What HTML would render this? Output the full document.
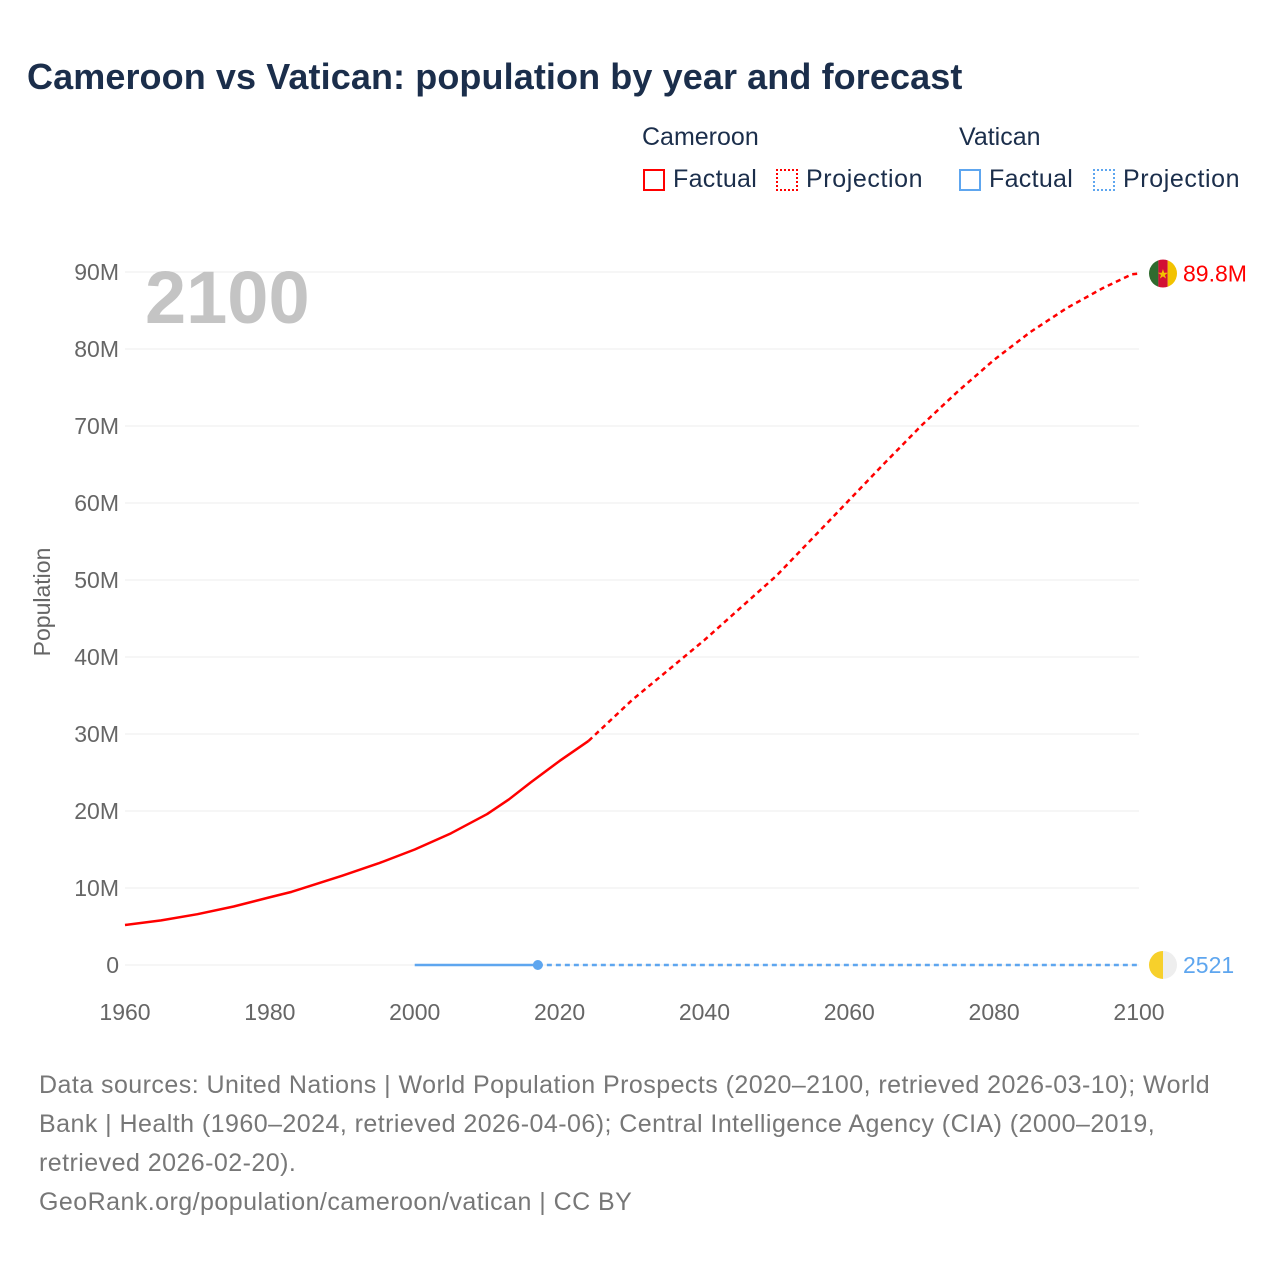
<!DOCTYPE html>
<html><head><meta charset="utf-8"><style>
body{margin:0;background:#fff;font-family:"Liberation Sans",sans-serif}
#wrap{position:relative;width:1280px;height:1280px}
.t{position:absolute;white-space:nowrap}
.box{position:absolute;width:22px;height:22px;box-sizing:border-box}
</style></head><body><div id="wrap">
<div class="t" style="left:27px;top:56px;font-size:36px;font-weight:bold;color:#1b2e4b;letter-spacing:0.1px">Cameroon vs Vatican: population by year and forecast</div>
<div class="t" style="left:642px;top:123px;font-size:25px;color:#1b2e4b">Cameroon</div>
<div class="t" style="left:959px;top:123px;font-size:25px;color:#1b2e4b">Vatican</div>
<div class="box" style="left:643px;top:169px;border:2px solid #f00"></div>
<div class="t" style="left:673px;top:165px;font-size:25px;color:#1b2e4b;letter-spacing:0.3px">Factual</div>
<div class="box" style="left:776px;top:169px;border:2px dotted #f00"></div>
<div class="t" style="left:806px;top:165px;font-size:25px;color:#1b2e4b;letter-spacing:0.6px">Projection</div>
<div class="box" style="left:959px;top:169px;border:2px solid #5ea6ef"></div>
<div class="t" style="left:989px;top:165px;font-size:25px;color:#1b2e4b;letter-spacing:0.3px">Factual</div>
<div class="box" style="left:1093px;top:169px;border:2px dotted #5ea6ef"></div>
<div class="t" style="left:1123px;top:165px;font-size:25px;color:#1b2e4b;letter-spacing:0.6px">Projection</div>
<svg id="chart" width="1280" height="1280" style="position:absolute;left:0;top:0"></svg>
<div class="t" style="left:39px;top:1066px;font-size:25px;line-height:39px;color:#777;letter-spacing:0.45px">Data sources: United Nations | World Population Prospects (2020–2100, retrieved 2026-03-10); World<br>Bank | Health (1960–2024, retrieved 2026-04-06); Central Intelligence Agency (CIA) (2000–2019,<br>retrieved 2026-02-20).<br>GeoRank.org/population/cameroon/vatican | CC BY</div>
</div>
<script>
const yTicks=[0,10,20,30,40,50,60,70,80,90];
const yTickLabels=["0","10M","20M","30M","40M","50M","60M","70M","80M","90M"];
const xTicks=[1960,1980,2000,2020,2040,2060,2080,2100];
const camFactYears=[1960,1965,1970,1975,1980,1983,1990,1995,2000,2005,2010,2013,2016,2020,2024];
const camFactVals=[5.2,5.8,6.6,7.6,8.8,9.5,11.6,13.2,15.0,17.1,19.6,21.5,23.7,26.5,29.1];
const camProjYears=[2024,2030,2035,2040,2045,2050,2055,2060,2065,2070,2075,2080,2085,2090,2095,2099,2100];
const camProjVals=[29.1,34.4,38.3,42.2,46.4,50.6,55.5,60.4,65.3,70.1,74.5,78.6,82.2,85.3,87.9,89.7,89.8];
const vatFactYears=[2000,2017];
const vatFactVals=[0.00089,0.001];
const vatProjYears=[2017,2100];
const vatProjVals=[0.001,0.002521];
const X=y=>125+(y-1960)*(1014/140);
const Y=v=>965-v*7.7;
const svg=document.getElementById('chart');
const NS='http://www.w3.org/2000/svg';
function mk(t,a){const e=document.createElementNS(NS,t);for(const k in a)e.setAttribute(k,a[k]);svg.appendChild(e);return e;}
yTicks.forEach((v,i)=>{
 const l=mk('line',{x1:125,x2:1139,y1:Y(v),y2:Y(v),stroke:'#ededed','stroke-width':1});
 
 
 const t=mk('text',{x:119,y:Y(v)+8,'text-anchor':'end','font-size':23,fill:'#666','font-family':'Liberation Sans, sans-serif'});
 t.textContent=yTickLabels[i];
 
 
});
xTicks.forEach(y=>{
 const t=mk('text',{x:X(y),y:1020,'text-anchor':'middle','font-size':23,fill:'#666','font-family':'Liberation Sans, sans-serif'});
 t.textContent=y;
 
 
});
const yt=mk('text',{x:0,y:0,transform:'translate(50,602) rotate(-90)','text-anchor':'middle','font-size':23,fill:'#666','font-family':'Liberation Sans, sans-serif'});
yt.textContent='Population';


const yr=mk('text',{x:145,y:323,'font-size':74,'font-weight':'bold',fill:'#c4c4c4','font-family':'Liberation Sans, sans-serif'});
yr.textContent='2100';


function pts(ys,vs){return ys.map((y,i)=>X(y)+','+Y(vs[i])).join(' ');}
let p=mk('polyline',{points:pts(camFactYears,camFactVals),fill:'none',stroke:'#f00','stroke-width':2.5,'stroke-linejoin':'round'});


p=mk('polyline',{points:pts(camProjYears,camProjVals),fill:'none',stroke:'#f00','stroke-width':2.5,'stroke-dasharray':'5,4'});


p=mk('polyline',{points:pts(vatFactYears,vatFactVals),fill:'none',stroke:'#5ea6ef','stroke-width':2.5});


p=mk('polyline',{points:pts(vatProjYears,vatProjVals),fill:'none',stroke:'#5ea6ef','stroke-width':2.5,'stroke-dasharray':'5,4'});


const dot=mk('circle',{cx:X(2017),cy:Y(0.001),r:5,fill:'#5ea6ef'});


const cx=1163,cy1=Y(89.8),cy2=Y(0.0025);
const cp=mk('clipPath',{id:'c1'});mk('circle',{cx:cx,cy:cy1,r:14});cp.appendChild(svg.lastChild);
const g1=mk('g',{'clip-path':'url(#c1)'});


[['#2f6b2f',0],['#d21034',1],['#f2c200',2]].forEach(([c,i])=>{const r=document.createElementNS(NS,'rect');r.setAttribute('x',cx-14+i*9.34);r.setAttribute('y',cy1-14);r.setAttribute('width',9.4);r.setAttribute('height',28);r.setAttribute('fill',c);g1.appendChild(r);});
const st=document.createElementNS(NS,'text');st.setAttribute('x',cx);st.setAttribute('y',cy1+5);st.setAttribute('text-anchor','middle');st.setAttribute('font-size',13);st.setAttribute('fill','#f2c200');st.textContent='★';g1.appendChild(st);
const cp2=mk('clipPath',{id:'c2'});mk('circle',{cx:cx,cy:cy2,r:14});cp2.appendChild(svg.lastChild);
const g2=mk('g',{'clip-path':'url(#c2)'});


[['#f7d02b',0],['#eeeeee',1]].forEach(([c,i])=>{const r=document.createElementNS(NS,'rect');r.setAttribute('x',cx-14+i*14);r.setAttribute('y',cy2-14);r.setAttribute('width',14);r.setAttribute('height',28);r.setAttribute('fill',c);g2.appendChild(r);});
let lb=mk('text',{x:1183,y:cy1+8,'font-size':23,fill:'#f00','font-family':'Liberation Sans, sans-serif'});
lb.textContent='89.8M';


lb=mk('text',{x:1183,y:cy2+8,'font-size':23,fill:'#5ea6ef','font-family':'Liberation Sans, sans-serif'});
lb.textContent='2521';


</script></body></html>
